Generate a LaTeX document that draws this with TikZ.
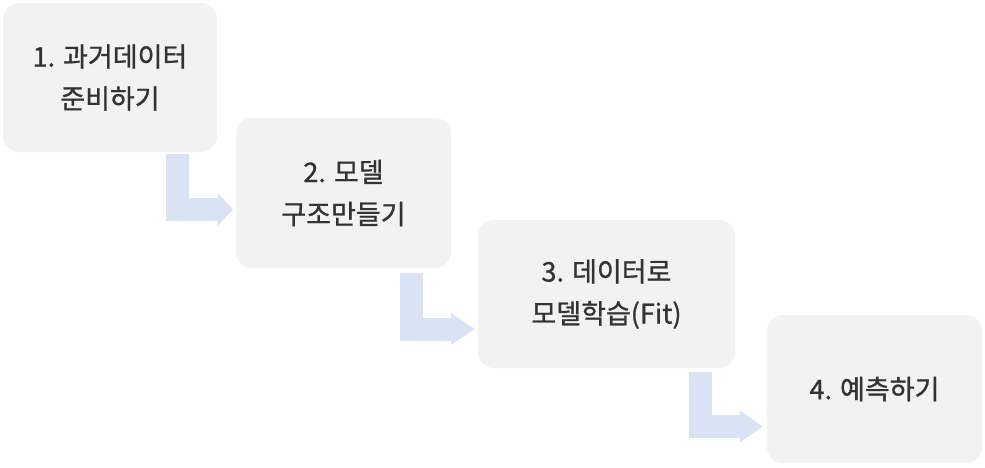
\documentclass[tikz,border=0pt]{standalone}
\usepackage{fontspec}
\setmainfont{Noto Sans CJK KR}
\newfontfamily\stepfont{Noto Sans CJK KR}[FakeBold=1.0]
\usepackage{xcolor}
\usetikzlibrary{arrows.meta,calc,positioning}
\definecolor{boxgray}{HTML}{F2F2F2}
\definecolor{flowblue}{HTML}{DAE3F3}
\definecolor{textgray}{HTML}{333333}

\begin{document}
\begin{tikzpicture}[
    x=1pt, y=-1pt,
    stepbox/.style={rectangle, fill=boxgray, rounded corners=16pt, text=textgray, align=center,
        font=\stepfont\fontsize{27}{42}\selectfont, minimum height=149pt, inner sep=0pt},
    flow/.style={draw=flowblue, line width=23pt, line join=miter, line cap=butt}
]
\useasboundingbox (0,0) rectangle (985,467);

% Steps
\node[stepbox, minimum width=214pt] (prep) at (110,77.5) {1. 과거데이터\\준비하기};
\node[stepbox, minimum width=215pt, minimum height=150pt] (model) at (343.5,193) {2. 모델\\구조만들기};
\node[stepbox, minimum width=257pt, minimum height=148pt] (fit) at (606.5,294) {3. 데이터로\\모델학습(Fit)};
\node[stepbox, minimum width=215pt, minimum height=148pt] (predict) at (874.5,389) {4. 예측하기};

% Connections
\draw[flow, -{Triangle[length=15pt, width=33pt, line width=0pt, fill=flowblue]}]
    ($(prep.south east)+(-39.5,2)$) |- ($(model.west)+(-3,16.5)$);
\draw[flow, -{Triangle[length=24pt, width=32pt, line width=0pt, fill=flowblue]}]
    ($(model.south east)+(-39.5,5)$) |- ($(fit.west)+(-3,35)$);
\draw[flow, -{Triangle[length=23pt, width=32pt, line width=0pt, fill=flowblue]}]
    ($(fit.south east)+(-34.5,4)$) |- ($(predict.west)+(-4,37.5)$);

\end{tikzpicture}
\end{document}
